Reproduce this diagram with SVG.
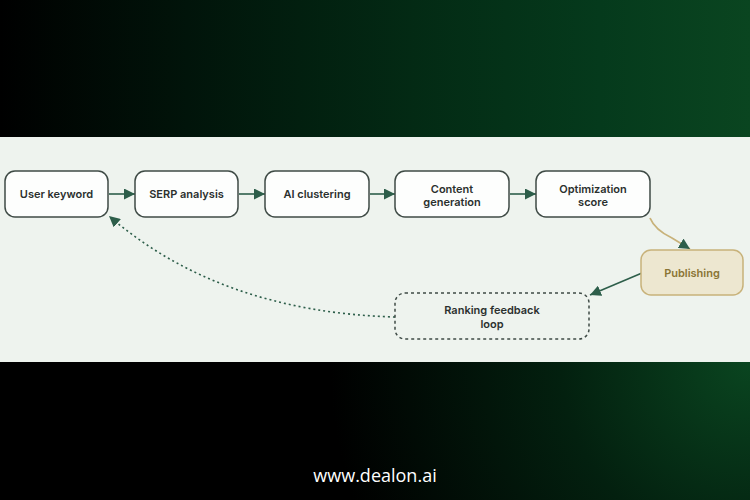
<svg xmlns="http://www.w3.org/2000/svg" width="750" height="500" viewBox="0 0 750 500">
<defs>
<linearGradient id="topg" x1="0" y1="0" x2="1" y2="0">
<stop offset="0" stop-color="#000000"/>
<stop offset="0.25" stop-color="#01140a"/>
<stop offset="0.55" stop-color="#032a14"/>
<stop offset="0.8" stop-color="#053a1c"/>
<stop offset="1" stop-color="#0a4520"/>
</linearGradient>
<radialGradient id="botg" cx="750" cy="362" r="420" gradientUnits="userSpaceOnUse">
<stop offset="0" stop-color="#0a4520"/>
<stop offset="0.45" stop-color="#03200f"/>
<stop offset="1" stop-color="#000000"/>
</radialGradient>
<marker id="ah" viewBox="0 0 10 10" refX="10" refY="5" markerWidth="11" markerHeight="11" markerUnits="userSpaceOnUse" orient="auto">
<path d="M0,0 L10,5 L0,10 z" fill="#2d5e4a"/>
</marker>
</defs>
<style>
.box{fill:#fdfefd;stroke:#3f4b46;stroke-width:1.5}
.lbl{font-family:Inter,"Liberation Sans",sans-serif;font-size:11px;font-weight:600;fill:#2b302e;text-anchor:middle}
.con{fill:none;stroke:#2d5e4a;stroke-width:1.6}
</style>
<rect x="0" y="0" width="750" height="137" fill="url(#topg)"/>
<rect x="0" y="362" width="750" height="138" fill="url(#botg)"/>
<rect x="0" y="137" width="750" height="225" fill="#eef3ee"/>

<g id="connectors">
<line class="con" x1="109" y1="194" x2="135" y2="194" marker-end="url(#ah)"/>
<line class="con" x1="239" y1="194" x2="265" y2="194" marker-end="url(#ah)"/>
<line class="con" x1="370" y1="194" x2="395" y2="194" marker-end="url(#ah)"/>
<line class="con" x1="510" y1="194" x2="536" y2="194" marker-end="url(#ah)"/>
<path d="M650,218 Q655,230 672,238 L690,249" fill="none" stroke="#c8b27a" stroke-width="1.8" marker-end="url(#ah)"/>
<line class="con" x1="642" y1="273" x2="590" y2="295" marker-end="url(#ah)"/>
<path class="con" d="M395,317 Q220,312 109,216" stroke-dasharray="2 3" marker-end="url(#ah)"/>
</g>

<g id="user-keyword">
<rect class="box" x="5" y="171" width="103" height="46" rx="10"/>
<text class="lbl" x="56.5" y="198">User keyword</text>
</g>
<g id="serp-analysis">
<rect class="box" x="135" y="171" width="103" height="46" rx="10"/>
<text class="lbl" x="186.5" y="198">SERP analysis</text>
</g>
<g id="ai-clustering">
<rect class="box" x="265" y="171" width="104" height="46" rx="10"/>
<text class="lbl" x="317" y="198">AI clustering</text>
</g>
<g id="content-generation">
<rect class="box" x="395" y="171" width="114" height="46" rx="10"/>
<text class="lbl" x="452" y="193">Content</text>
<text class="lbl" x="452" y="206">generation</text>
</g>
<g id="optimization-score">
<rect class="box" x="536" y="171" width="114" height="46" rx="10"/>
<text class="lbl" x="593" y="193">Optimization</text>
<text class="lbl" x="593" y="206">score</text>
</g>
<g id="publishing">
<rect x="641" y="250" width="102" height="45" rx="10" fill="#ede7d0" stroke="#c8b27a" stroke-width="1.5"/>
<text class="lbl" x="692" y="277" style="fill:#8a7535">Publishing</text>
</g>
<g id="ranking-feedback-loop">
<rect x="395" y="293" width="194" height="46" rx="10" fill="none" stroke="#3f4b46" stroke-width="1.5" stroke-dasharray="3 3"/>
<text class="lbl" x="492" y="314">Ranking feedback</text>
<text class="lbl" x="492" y="328">loop</text>
</g>

<text x="375" y="482" font-family="'Open Sans','Liberation Sans',sans-serif" font-size="18" fill="#ffffff" text-anchor="middle">www.dealon.ai</text>
</svg>
